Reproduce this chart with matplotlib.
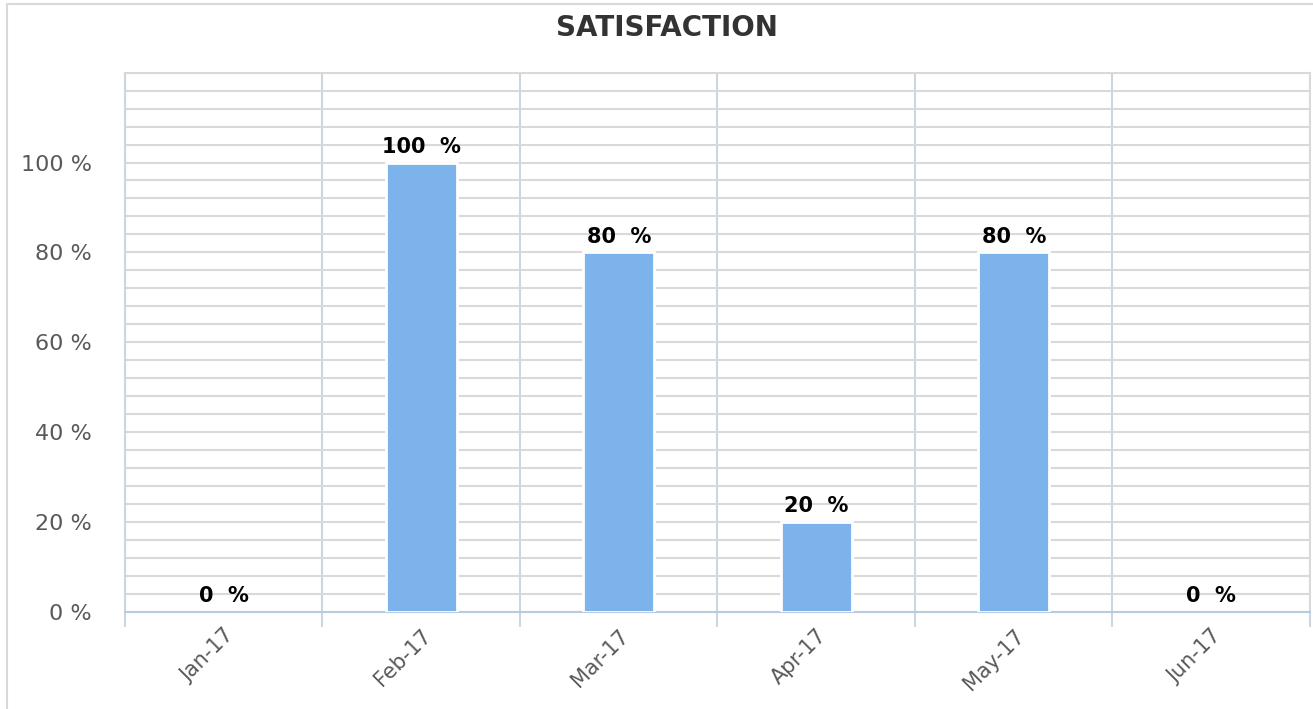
import matplotlib.pyplot as plt
from matplotlib.patches import Rectangle
import numpy as np

# chart data
months = ['Jan-17', 'Feb-17', 'Mar-17', 'Apr-17', 'May-17', 'Jun-17']
satisfaction = [0, 100, 80, 20, 80, 0]
y_ticks = [0, 20, 40, 60, 80, 100]
y_tick_labels = ['0 %', '20 %', '40 %', '60 %', '80 %', '100 %']

fig = plt.figure(figsize=(13.13, 7.09), dpi=100)
ax = fig.add_axes([0.0952, 0.1372, 0.9025, 0.7603])

# outer chart border
fig.patches.append(Rectangle((0.0055, -0.02), 1.02, 1.015, transform=fig.transFigure,
                             fill=False, edgecolor='#d9d9d9', linewidth=1.5))

x = np.arange(len(months))
edge_widths = [2 if v > 0 else 0 for v in satisfaction]
ax.bar(x, satisfaction, width=0.36, color='#7cb3ea', edgecolor='white',
       linewidth=edge_widths, zorder=3)

for xi, v in zip(x, satisfaction):
    ax.annotate(f'{v}  %', (xi, v), xytext=(0, 4), textcoords='offset points',
                ha='center', va='bottom', fontsize=15, fontweight='bold', color='black')

ax.set_xlim(-0.5, len(months) - 0.5)
ax.set_ylim(0, 120)

# horizontal gridlines every 4 %
ax.set_yticks(y_ticks)
ax.set_yticklabels(y_tick_labels, fontsize=16, color='#595959')
ax.set_yticks(np.arange(0, 121, 4), minor=True)
ax.tick_params(axis='y', which='both', length=0, pad=24)
ax.grid(axis='y', which='both', color='#d9d9d9', linewidth=1.5, zorder=0)

# category boundaries as vertical lines, labels at centres
ax.set_xticks(x)
ax.set_xticklabels(months, rotation=45, ha='right', va='top', fontsize=15,
                   color='#595959', rotation_mode='anchor')
ax.set_xticks(np.arange(-0.5, len(months), 1), minor=True)
ax.tick_params(axis='x', which='major', length=0, pad=10)
ax.tick_params(axis='x', which='minor', length=11, color='#cdd5e0', width=1.5)
ax.grid(axis='x', which='minor', color='#cdd5e0', linewidth=1.5, zorder=0)

for s in ['top', 'right']:
    ax.spines[s].set_color('#d9d9d9')
    ax.spines[s].set_linewidth(1.5)
ax.spines['left'].set_color('#cdd5e0')
ax.spines['left'].set_linewidth(1.5)
ax.spines['bottom'].set_color('#b9cbe4')
ax.spines['bottom'].set_linewidth(1.5)

fig.text(0.508, 0.96, 'SATISFACTION', ha='center', va='center', fontsize=20,
         fontweight='bold', color='#333333')

fig.savefig('out.png', dpi=100)
